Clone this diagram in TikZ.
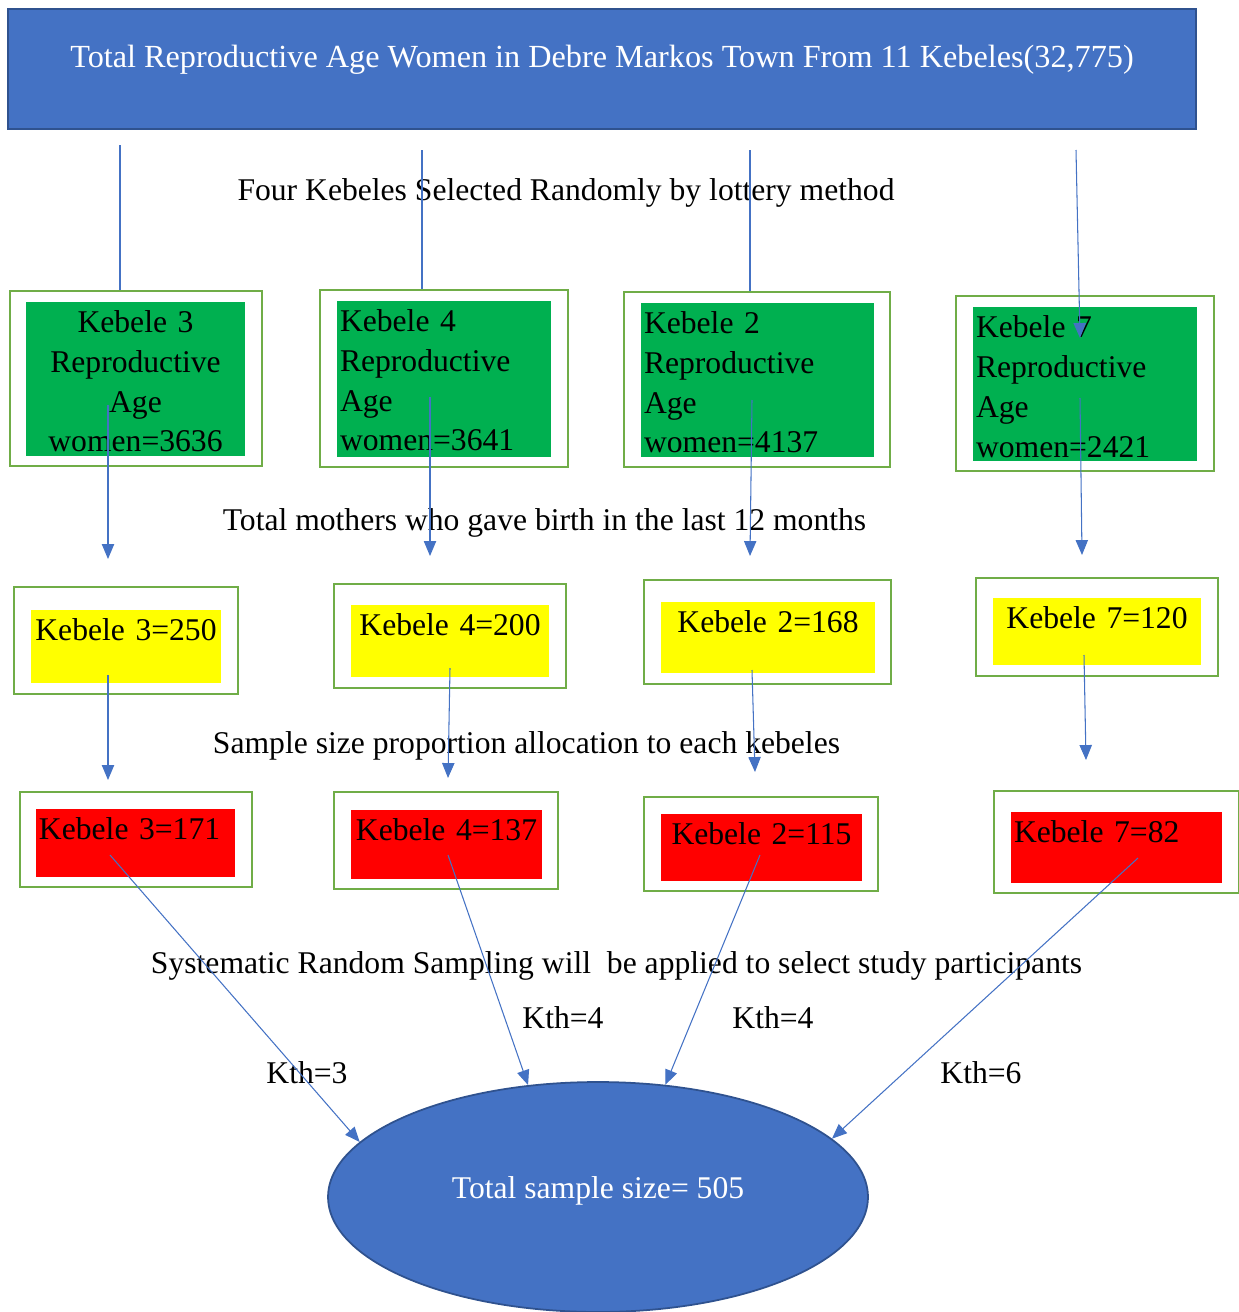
\documentclass[tikz,border=0pt]{standalone}
\usepackage{fontspec}
\setmainfont{Liberation Serif}
\usetikzlibrary{arrows.meta,shapes.geometric}

\definecolor{boxblue}{HTML}{4472C4}
\definecolor{edgeblue}{HTML}{2F528F}
\definecolor{framegreen}{HTML}{70AD47}
\definecolor{cellgreen}{HTML}{00B050}
\definecolor{cellyellow}{HTML}{FFFF00}
\definecolor{cellred}{HTML}{FF0000}

\tikzset{
	every node/.style={font=\fontsize{18}{22.7}\selectfont},
	frame/.style={draw=framegreen, line width=1.6pt, fill=white, inner sep=0pt},
	cell/.style={inner sep=0pt, inner xsep=0.06cm, anchor=north, text height=0.6cm},
	link/.style={draw=boxblue, line width=0.6pt},
	tip/.style={link, -{Triangle[length=8.5pt,width=7pt]}}
}

\begin{document}
\begin{tikzpicture}[x=0.02cm, y=-0.02cm]
			\useasboundingbox (0,0) rectangle (1239,1312);
			
			% Define the top node
			\node[fill=boxblue, draw=edgeblue, line width=1pt, text=white, inner sep=0pt, anchor=north,
				minimum width=23.76cm, text height=1.18cm, text depth=1.22cm,
				font=\fontsize{18.35}{22.7}\selectfont] (top) at (602,8)
				{Total Reproductive Age Women in Debre Markos Town From 11 Kebeles(32,775)};
			
			% Define the outer frames
			\foreach \n/\x/\y/\w/\h in {g1/136/378.5/252/175, g2/444/378.5/248/177, g3/757/379.5/266/175, g4/1085/383.5/258/175,
				y1/126/640.5/224/107, y2/450/636/232/104, y3/767.5/632/247/104, y4/1097/627/242/98,
				r1/136/839.5/232/95, r2/446/840.5/224/97, r3/761/844/234/94, r4/1116.5/842/245/102}
			\node[frame, minimum width=\w*0.02cm, minimum height=\h*0.02cm] (\n) at (\x,\y) {};
			
			% Define the coloured cells inside the frames
			\foreach \n/\x/\y/\w/\h/\a/\c/\t in {
				g1c/135.5/302/219/154/center/cellgreen/Kebele 3\\Reproductive\\Age\\women=3636,
				g2c/444/301/214/156/left/cellgreen/Kebele 4\\Reproductive\\Age\\women=3641,
				g3c/757.5/303/233/154/left/cellgreen/Kebele 2\\Reproductive\\Age\\women=4137,
				g4c/1085/307/224/154/left/cellgreen/Kebele 7\\Reproductive\\Age\\women=2421,
				y1c/126/610/190/73/center/cellyellow/Kebele 3=250,
				y2c/450/605/198/72/center/cellyellow/Kebele 4=200,
				y3c/768/602/214/71/center/cellyellow/Kebele 2=168,
				y4c/1097/598/208/67/center/cellyellow/Kebele 7=120,
				r1c/135.5/809/199/68/left/cellred/Kebele 3=171,
				r2c/446.5/810/191/69/center/cellred/Kebele 4=137,
				r3c/761.5/814/201/67/center/cellred/Kebele 2=115,
				r4c/1116.5/812/211/71/left/cellred/Kebele 7=82}
			{
				\pgfmathsetmacro\tw{(\w-6)*0.02}
				\pgfmathsetmacro\td{(\h-30)*0.02}
				\node[cell, fill=\c, text width=\tw cm, text depth=\td cm, align=\a] (\n) at (\x,\y) {\t};
			}
			
			% Define the total node
			\node[ellipse, fill=boxblue, draw=edgeblue, line width=1pt, text=white, inner sep=0pt,
				minimum width=10.8cm, minimum height=4.6cm, text depth=0.37cm] (total) at (598,1197) {Total sample size= 505};
			
			% Define the step labels
			\node (lottery) at (566,193) {Four Kebeles Selected Randomly by lottery method};
			\node (birth) at (544.5,523) {Total mothers who gave birth in the last 12 months};
			\node (alloc) at (526.5,746) {Sample size proportion allocation to each kebeles};
			\node (system) at (616.5,966) {Systematic Random Sampling will\ \ be applied to select study participants};
			\node (k3) at (307,1073) {Kth=3};
			\node (k4a) at (563,1018) {Kth=4};
			\node (k4b) at (773,1018) {Kth=4};
			\node (k7) at (981,1073) {Kth=6};
			
			% Define the free ends of the arrows
			\coordinate (t1) at (120,145);
			\coordinate (t2) at (422,150);
			\coordinate (t3) at (750,150);
			\coordinate (t4) at (1076,150);
			\coordinate (t4e) at (1080,338);
			\foreach \n/\x/\y/\u/\v in {a1/108/405/108/559, a2/430/397/430/556, a3/752/400/750/556, a4/1080/398/1082/555,
				b1/108/675/108/780, b2/450/668/448/778, b3/752/670/755/772, b4/1084/655/1086/760,
				c1/110/855/0/0, c2/448/855/0/0, c3/760/855/0/0, c4/1138/858/0/0}
			{
				\coordinate (\n) at (\x,\y);
				\coordinate (\n e) at (\u,\v);
			}
			
			% Draw the links from the top node
			\draw[link] (t1) -- (t1 |- g1.north);
			\draw[link] (t2) -- (t2 |- g2.north);
			\draw[link] (t3) -- (t3 |- g3.north);
			\draw[tip] (t4) -- (t4e);
			
			% Draw the arrows between the levels
			\foreach \n in {a1,a2,a3,a4,b1,b2,b3,b4}
			\draw[tip] (\n) -- (\n e);
			
			% Draw the arrows to the total node
			\foreach \n/\a in {c1/167, c2/122, c3/59, c4/14}
			\draw[tip] (\n) -- (total.\a);
		\end{tikzpicture}
\end{document}
